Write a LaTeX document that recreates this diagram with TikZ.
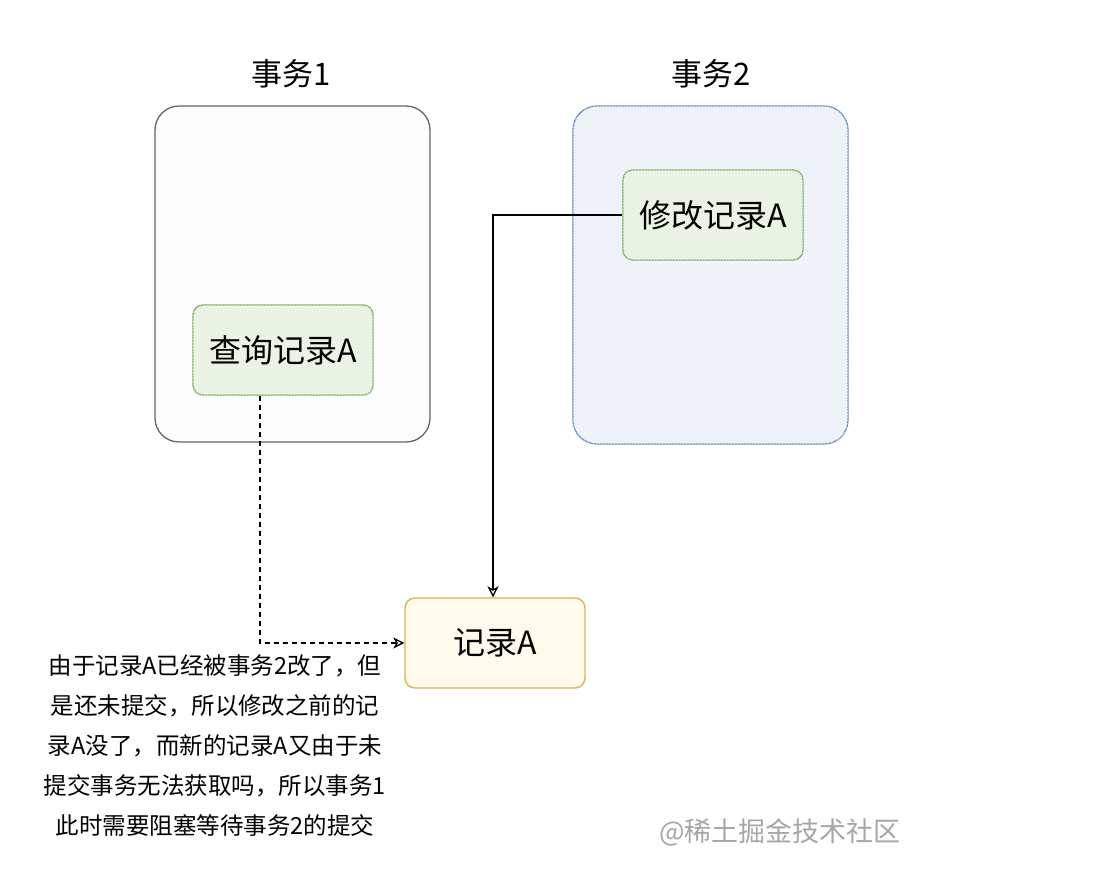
\documentclass[tikz,border=0pt]{standalone}
\usepackage{fontspec}
\setmainfont{Noto Sans CJK SC}
\usetikzlibrary{arrows.meta,patterns}
\definecolor{greenb}{HTML}{82B366}
\definecolor{greenf}{HTML}{F0F6EC}
\definecolor{blueb}{HTML}{6C8EBF}
\definecolor{bluef}{HTML}{F4F7FC}
\definecolor{yelb}{HTML}{D6B656}
\definecolor{yelf}{HTML}{FFFAEB}
\tikzset{
  txbox/.style={draw=#1, rounded corners=24pt, line width=1.3pt},
  nodebox/.style={rounded corners=10pt, line width=1.4pt,
    minimum width=180pt, minimum height=90pt, font=\fontsize{32}{36}\selectfont},
  opbox/.style={nodebox, draw=greenb, fill=greenf,
    postaction={pattern=north east lines, pattern color=greenb!25}},
  recbox/.style={nodebox, draw=yelb, fill=yelf},
  title/.style={font=\fontsize{31}{36}\selectfont},
  link/.style={line width=1.3pt, -{Stealth[open,length=11pt,width=11pt,inset=3pt]}},
}
\begin{document}
\begin{tikzpicture}[x=1pt,y=-1pt]
\useasboundingbox (0,0) rectangle (1117,878);
\fill[white] (0,0) rectangle (1117,878);
% transaction boxes
\draw[txbox=black!60, fill=black!1] (155,106) rectangle (430,442);
\draw[txbox=blueb, fill=bluef, postaction={pattern=north east lines, pattern color=blueb!18}] (573,106) rectangle (848,444);
\node[title] (t1) at (291,74) {事务1};
\node[title] (t2) at (711,74) {事务2};
% operation nodes
\node[opbox] (q) at (283,350) {查询记录A};
\node[opbox] (m) at (713,215) {修改记录A};
\node[recbox] (r) at (495,643) {记录A};
% connectors
\coordinate (c1) at (493,215);
\draw[link] (m.west) -- (c1) -- (c1 |- r.north);
\coordinate (c2) at (260,643);
\draw[link, dashed, dash pattern=on 5pt off 4pt] (q.south -| c2) -- (c2) -- (r.west);
% note
\node[align=center, font=\fontsize{23.5}{40}\selectfont, anchor=north] (note) at (215,651)
 {由于记录A已经被事务2改了，但\\是还未提交，所以修改之前的记\\录A没了，而新的记录A又由于未\\提交事务无法获取吗，所以事务1\\此时需要阻塞等待事务2的提交};
\node[font=\fontsize{27}{30}\selectfont, text=black!35] (wm) at (780,832) {@稀土掘金技术社区};
\end{tikzpicture}
\end{document}
